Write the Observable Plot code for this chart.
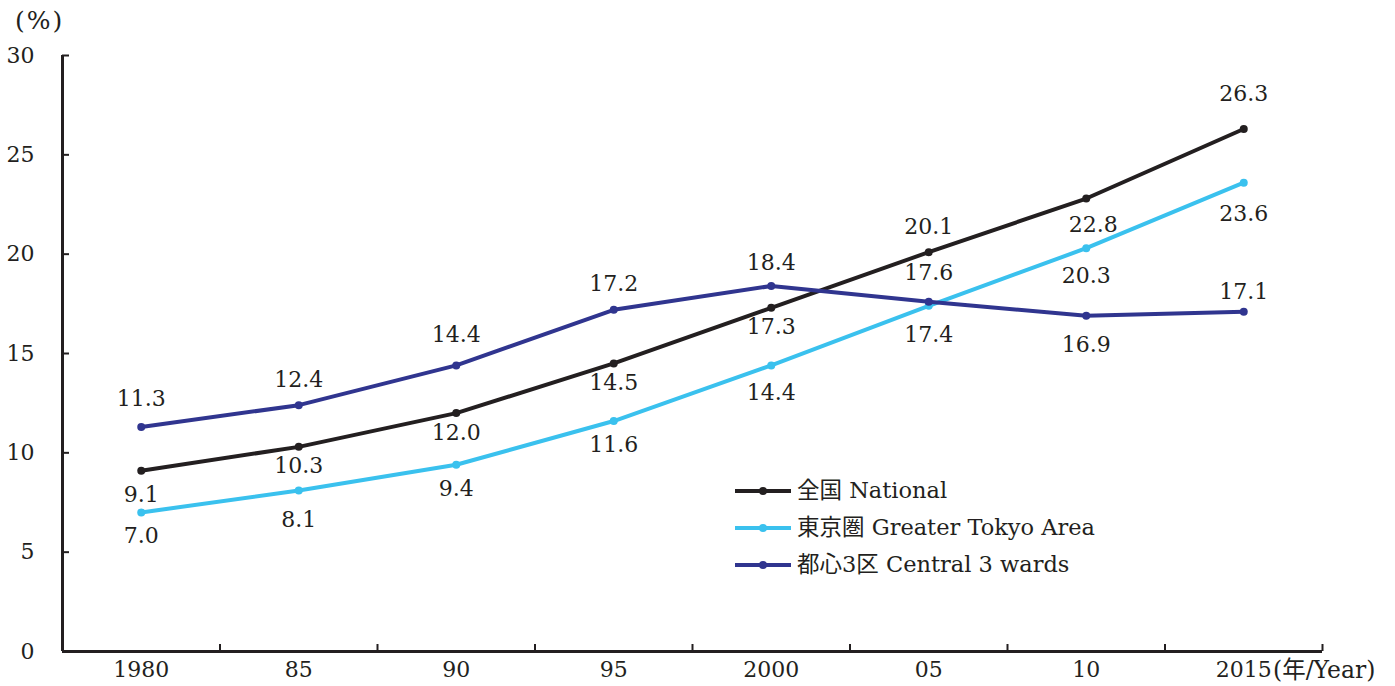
<!DOCTYPE html>
<html><head><meta charset="utf-8">
<script src="https://cdn.jsdelivr.net/npm/d3@7"></script>
<script src="https://cdn.jsdelivr.net/npm/@observablehq/plot@0.6"></script>
<style>
body{margin:0;background:#fff;}
#wrap{position:relative;width:1395px;height:686px;font-family:"DejaVu Serif","Noto Sans CJK JP",serif;color:#231f20;}
.abs{position:absolute;white-space:nowrap;font-size:22px;line-height:1;}
.leg{position:absolute;left:735px;font-size:22.5px;line-height:1;}
.row{display:flex;align-items:center;height:37px;}
.row svg{margin-right:6px;}
</style></head>
<body><div id="wrap"></div>
<script>
const years = ["1980","85","90","95","2000","05","10","2015"];
const yTicks = [0,5,10,15,20,25,30];
const seriesNames = ["全国 National","東京圏 Greater Tokyo Area","都心3区 Central 3 wards"];
const national = [9.1,10.3,12.0,14.5,17.3,20.1,22.8,26.3];
const tokyo    = [7.0,8.1,9.4,11.6,14.4,17.4,20.3,23.6];
const central  = [11.3,12.4,14.4,17.2,18.4,17.6,16.9,17.1];
const colors = ["#231f20","#3ac1ee","#30358f"];
// label offsets (px) relative to each point
const labelDy = [
  [24,19,20,20,19,-25,26,-35],
  [24,29,24,24,28,29,28,31],
  [-28,-25,-30,-26,-23,-29,29,-20]
];
const labelDx = [
  [0,0,0,0,0,0,7,0],
  [0,0,0,0,0,0,0,0],
  [0,0,0,0,0,0,0,0]
];
const valuesList = [national, tokyo, central];

const ink = "#231f20";
const marks = [];
// axes frame
marks.push(Plot.ruleY([0], {stroke: ink, strokeWidth: 3}));
marks.push(Plot.ruleX([0], {y1: 0, y2: 30, stroke: ink, strokeWidth: 3}));
// inward ticks
marks.push(Plot.ruleX(d3.range(1, years.length + 1), {y1: 0, y2: 0, insetTop: -7, stroke: ink, strokeWidth: 2}));
marks.push(Plot.ruleY(yTicks.slice(1), {x1: 0, x2: 0, insetRight: -7, stroke: ink, strokeWidth: 2}));
marks.push(Plot.axisX({ticks: years.map((d,i)=>i+0.5), tickFormat: v => years[Math.floor(v)], tickSize: 0, tickPadding: 10, fontSize: 22, label: null}));
marks.push(Plot.axisY({ticks: yTicks, tickSize: 0, tickPadding: 28, fontSize: 22, label: null}));

valuesList.forEach((vals, s) => {
  const rows = vals.map((v, i) => ({x: i + 0.5, y: v}));
  marks.push(Plot.line(rows, {x: "x", y: "y", stroke: colors[s], strokeWidth: 4}));
  marks.push(Plot.dot(rows, {x: "x", y: "y", fill: colors[s], r: 4, stroke: "none"}));
});
valuesList.forEach((vals, s) => {
  vals.forEach((v, i) => {
    marks.push(Plot.text([{x: i + 0.5, y: v}], {x: "x", y: "y", text: d => d.y.toFixed(1), dy: labelDy[s][i], dx: labelDx[s][i], fontSize: 22, fill: ink}));
  });
});

const chart = Plot.plot({
  width: 1395, height: 686,
  marginTop: 55, marginBottom: 35, marginLeft: 62, marginRight: 73,
  x: {type: "linear", domain: [0, years.length], axis: null},
  y: {domain: [0, 30], axis: null},
  style: {fontFamily: '"DejaVu Serif","Noto Sans CJK JP",serif', fontSize: "22px", color: ink, background: "#fff"},
  marks
});
const wrap = document.getElementById("wrap");
wrap.appendChild(chart);

const pct = document.createElement("div");
pct.className = "abs"; pct.style.left = "15px"; pct.style.top = "8px"; pct.style.fontSize = "25px"; pct.style.letterSpacing = "2px"; pct.textContent = "(%)";
wrap.appendChild(pct);
const unit = document.createElement("div");
unit.className = "abs"; unit.style.left = "1273px"; unit.style.top = "659px"; unit.style.fontSize = "23.5px"; unit.textContent = "(年/Year)";
wrap.appendChild(unit);

const leg = document.createElement("div");
leg.className = "leg"; leg.style.top = "472px";
seriesNames.forEach((n, s) => {
  const row = document.createElement("div"); row.className = "row";
  row.innerHTML = `<svg width="56" height="10"><line x1="0" y1="5" x2="56" y2="5" stroke="${colors[s]}" stroke-width="4"/><circle cx="28" cy="5" r="4" fill="${colors[s]}"/></svg><span>${n}</span>`;
  leg.appendChild(row);
});
wrap.appendChild(leg);
</script>
</body></html>
